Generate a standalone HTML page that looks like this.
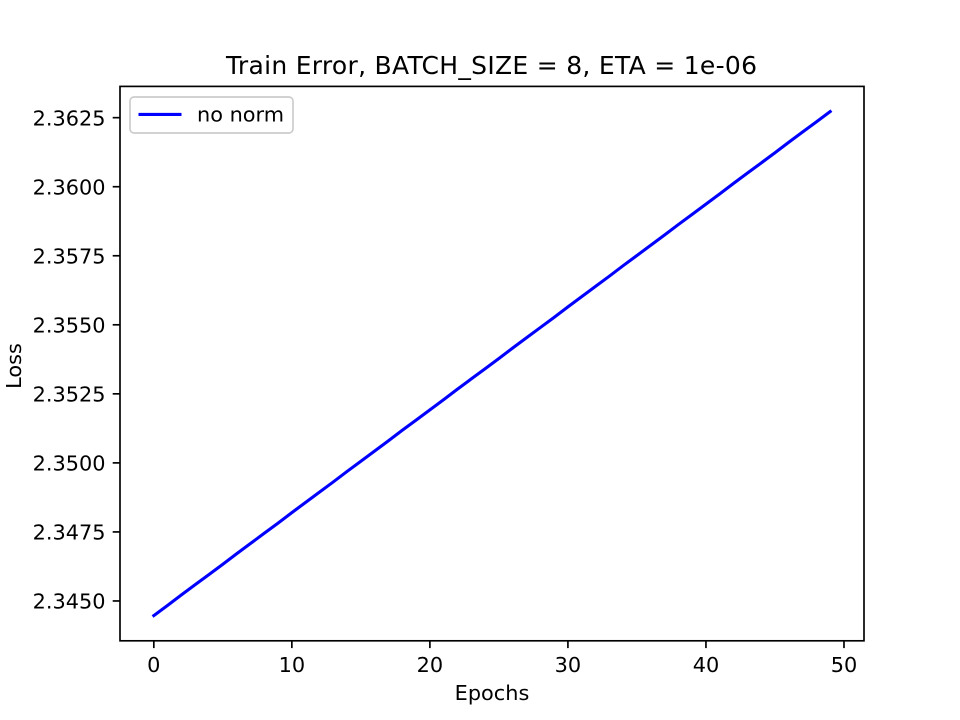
<!DOCTYPE html>
<html lang="en">
<head>
<meta charset="utf-8">
<title>Train Error</title>
<style>
html,body{margin:0;padding:0;background:#fff;}
svg{display:block;}
text{font-family:"DejaVu Sans",sans-serif;fill:#000;}
</style>
</head>
<body>
<svg id="chart" xmlns="http://www.w3.org/2000/svg" width="960" height="720" viewBox="0 0 960 720">
  <rect x="0" y="0" width="960" height="720" fill="#fff"/>
  <g id="x-ticks"></g>
  <g id="y-ticks"></g>
  <polyline id="series" fill="none" stroke="#0000ff" stroke-width="3.1" stroke-linecap="square" stroke-linejoin="round"/>
  <rect x="120" y="86.4" width="744" height="554.4" fill="none" stroke="#000" stroke-width="1.67"/>
  <text x="491.5" y="74" font-size="25" text-anchor="middle" textLength="531" lengthAdjust="spacing">Train Error, BATCH_SIZE = 8, ETA = 1e-06</text>
  <text x="492" y="700" font-size="20.83" text-anchor="middle">Epochs</text>
  <text x="0" y="0" font-size="20.83" text-anchor="middle" transform="translate(21 366) rotate(-90)">Loss</text>
  <g>
    <rect x="130" y="97" width="163" height="36" rx="4" ry="4" fill="#fff" fill-opacity="0.8" stroke="#cccccc" stroke-width="1.67"/>
    <line x1="138.5" y1="114.4" x2="181.5" y2="114.4" stroke="#0000ff" stroke-width="3.1"/>
    <text x="197" y="121.5" font-size="20.83">no norm</text>
  </g>
</svg>
<script>
const epochs = [0,1,2,3,4,5,6,7,8,9,10,11,12,13,14,15,16,17,18,19,20,21,22,23,24,25,26,27,28,29,30,31,32,33,34,35,36,37,38,39,40,41,42,43,44,45,46,47,48,49];
const lossValues = [2.34447,2.34484,2.34522,2.34559,2.34596,2.34633,2.34671,2.34708,2.34745,2.34782,2.34820,2.34857,2.34894,2.34931,2.34969,2.35006,2.35043,2.35080,2.35118,2.35155,2.35192,2.35229,2.35267,2.35304,2.35341,2.35378,2.35416,2.35453,2.35490,2.35527,2.35565,2.35602,2.35639,2.35676,2.35714,2.35751,2.35788,2.35825,2.35863,2.35900,2.35937,2.35974,2.36012,2.36049,2.36086,2.36123,2.36161,2.36198,2.36235,2.36272];
const xTickValues = [0,10,20,30,40,50];
const yTickValues = [2.3450,2.3475,2.3500,2.3525,2.3550,2.3575,2.3600,2.3625];

const plotLeft = 120, plotRight = 864, plotTop = 86.4, plotBottom = 640.8;
const epochMin = Math.min.apply(null, epochs), epochMax = Math.max.apply(null, epochs);
const lossMin = Math.min.apply(null, lossValues), lossMax = Math.max.apply(null, lossValues);
const xMargin = (epochMax - epochMin) * 0.05;
const yMargin = (lossMax - lossMin) * 0.05;
const xDomain = [epochMin - xMargin, epochMax + xMargin];
const yDomain = [lossMin - yMargin, lossMax + yMargin];

function xScale(v) {
  return plotLeft + (v - xDomain[0]) / (xDomain[1] - xDomain[0]) * (plotRight - plotLeft);
}
function yScale(v) {
  return plotBottom - (v - yDomain[0]) / (yDomain[1] - yDomain[0]) * (plotBottom - plotTop);
}

const svgNS = 'http://www.w3.org/2000/svg';
const xGroup = document.getElementById('x-ticks');
const yGroup = document.getElementById('y-ticks');

xTickValues.forEach(function (t) {
  const px = xScale(t);
  const mark = document.createElementNS(svgNS, 'line');
  
  
  mark.setAttribute('x1', px);
  mark.setAttribute('x2', px);
  mark.setAttribute('y1', plotBottom);
  mark.setAttribute('y2', plotBottom + 7.3);
  mark.setAttribute('stroke', '#000');
  mark.setAttribute('stroke-width', '1.67');
  xGroup.appendChild(mark);
  const label = document.createElementNS(svgNS, 'text');
  
  
  label.setAttribute('x', px);
  label.setAttribute('y', plotBottom + 31);
  label.setAttribute('font-size', '20.83');
  label.setAttribute('text-anchor', 'middle');
  label.textContent = String(t);
  xGroup.appendChild(label);
});

yTickValues.forEach(function (t) {
  const py = yScale(t);
  const mark = document.createElementNS(svgNS, 'line');
  
  
  mark.setAttribute('x1', plotLeft - 7.3);
  mark.setAttribute('x2', plotLeft);
  mark.setAttribute('y1', py);
  mark.setAttribute('y2', py);
  mark.setAttribute('stroke', '#000');
  mark.setAttribute('stroke-width', '1.67');
  yGroup.appendChild(mark);
  const label = document.createElementNS(svgNS, 'text');
  
  
  label.setAttribute('x', plotLeft - 14.5);
  label.setAttribute('y', py + 7.6);
  label.setAttribute('font-size', '20.83');
  label.setAttribute('text-anchor', 'end');
  label.textContent = t.toFixed(4);
  yGroup.appendChild(label);
});

document.getElementById('series').setAttribute('points', epochs.map(function (e, i) {
  return xScale(e).toFixed(2) + ',' + yScale(lossValues[i]).toFixed(2);
}).join(' '));
</script>
</body>
</html>
